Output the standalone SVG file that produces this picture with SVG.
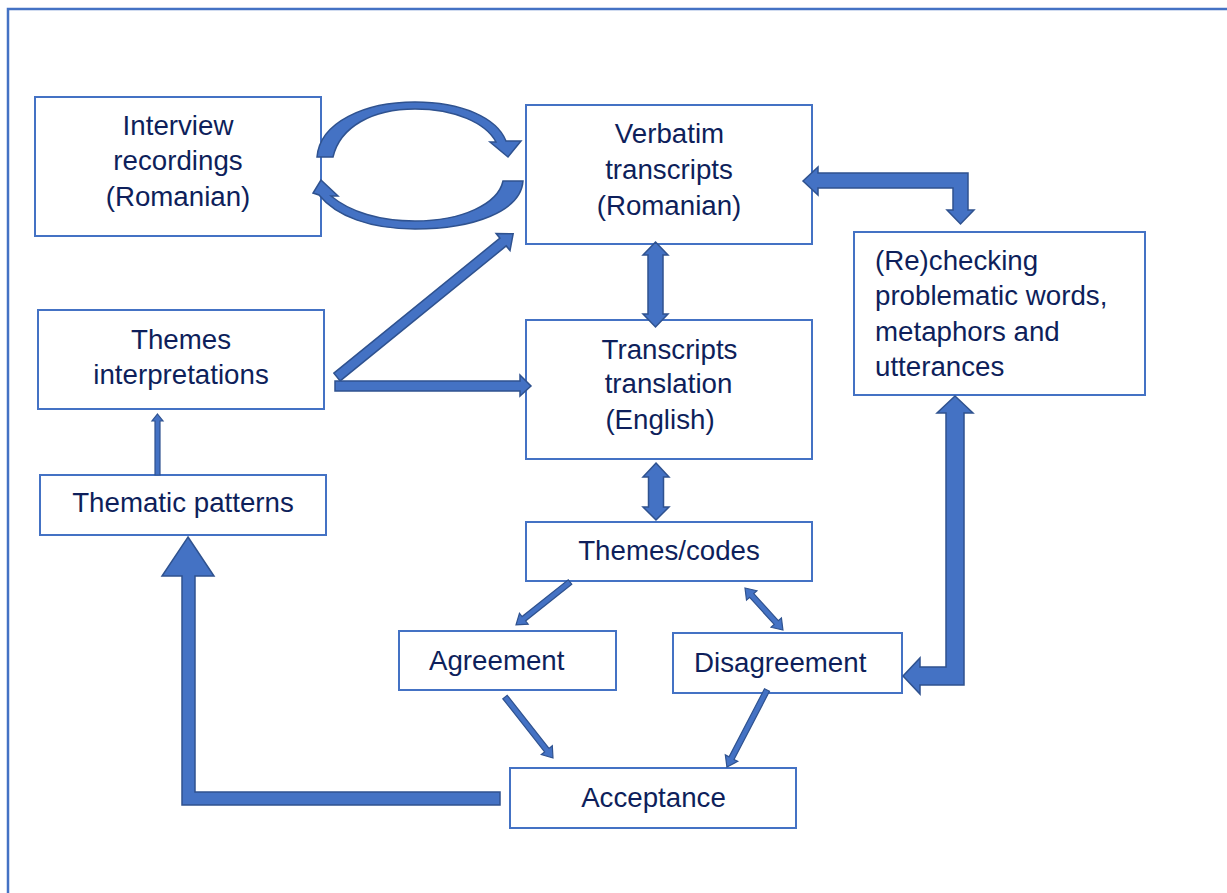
<svg xmlns="http://www.w3.org/2000/svg" width="1227" height="893" viewBox="0 0 1227 893">
  <style>
    .box { fill: #ffffff; stroke: #4472c4; stroke-width: 2; }
    .frame { fill: none; stroke: #4472c4; stroke-width: 2.5; }
    .lbl { font-family: "Liberation Sans", Arial, sans-serif; font-size: 27.7px; fill: #0e1f5b; }
    .mid { text-anchor: middle; }
    .arrow { fill: #4472c4; stroke: #2f528f; stroke-width: 1.5; stroke-linejoin: miter; }
    .thin { fill: #4472c4; stroke: #2f528f; stroke-width: 1.2; }
  </style>

  <rect width="1227" height="893" fill="#ffffff"/>
  <rect class="frame" x="8" y="9" width="1240" height="900"/>

  <g id="node-recordings">
    <rect class="box" x="35" y="97" width="286" height="139"/>
    <text class="lbl mid" x="178" y="135">Interview</text>
    <text class="lbl mid" x="178" y="170">recordings</text>
    <text class="lbl mid" x="178" y="206">(Romanian)</text>
  </g>

  <g id="node-verbatim">
    <rect class="box" x="526" y="105" width="286" height="139"/>
    <text class="lbl mid" x="669.5" y="143">Verbatim</text>
    <text class="lbl mid" x="669" y="179">transcripts</text>
    <text class="lbl mid" x="669" y="215">(Romanian)</text>
  </g>

  <g id="node-interpretations">
    <rect class="box" x="38" y="310" width="286" height="99"/>
    <text class="lbl mid" x="181" y="349">Themes</text>
    <text class="lbl mid" x="181" y="384">interpretations</text>
  </g>

  <g id="node-translation">
    <rect class="box" x="526" y="320" width="286" height="139"/>
    <text class="lbl mid" x="669.5" y="359">Transcripts</text>
    <text class="lbl mid" x="668.5" y="393">translation</text>
    <text class="lbl mid" x="660" y="429">(English)</text>
  </g>

  <g id="node-rechecking">
    <rect class="box" x="854" y="232" width="291" height="163"/>
    <text class="lbl" x="875" y="270">(Re)checking</text>
    <text class="lbl" x="875" y="305">problematic words,</text>
    <text class="lbl" x="875" y="341">metaphors and</text>
    <text class="lbl" x="875" y="376">utterances</text>
  </g>

  <g id="node-patterns">
    <rect class="box" x="40" y="475" width="286" height="60"/>
    <text class="lbl mid" x="183" y="512">Thematic patterns</text>
  </g>

  <g id="node-codes">
    <rect class="box" x="526" y="522" width="286" height="59"/>
    <text class="lbl mid" x="669" y="560">Themes/codes</text>
  </g>

  <g id="node-agreement">
    <rect class="box" x="399" y="631" width="217" height="59"/>
    <text class="lbl" x="429" y="670">Agreement</text>
  </g>

  <g id="node-disagreement">
    <rect class="box" x="673" y="633" width="229" height="60"/>
    <text class="lbl" x="694" y="672">Disagreement</text>
  </g>

  <g id="node-acceptance">
    <rect class="box" x="510" y="768" width="286" height="60"/>
    <text class="lbl mid" x="653.5" y="807">Acceptance</text>
  </g>

  <!-- connectors, drawn over the box borders -->
  <g id="connectors">
    <!-- curved arrows between recordings and transcripts -->
    <path class="arrow" d="M 317 157 C 320 122, 365 102, 415 102 C 462 102, 497 118, 506 141 L 521 141 L 508 157 L 490 142 L 496 142 C 486 123, 455 109, 415 109 C 372 109, 340 127, 333 157 Z"/>
    <path class="arrow" d="M 321 180 L 338 196 L 331 196 C 350 212, 380 221, 415 221 C 462 221, 498 204, 503 181 L 523 181 C 521 211, 474 229, 415 229 C 370 229, 336 216, 319 195 L 313 193 Z"/>

    <!-- interpretations to verbatim transcripts (diagonal) -->
    <polygon class="arrow" transform="translate(337,377) rotate(-39.1)" points="0,-5 214,-5 214,-11 227,0 214,11 214,5 0,5"/>
    <!-- interpretations to translation (horizontal) -->
    <polygon class="arrow" points="335,381 520,381 520,375 531,386 520,396 520,391 335,391"/>

    <!-- verbatim <-> translation -->
    <polygon class="arrow" points="655.5,242 668,255 663,255 663,314 668,314 655.5,327 643,314 648,314 648,255 643,255"/>
    <!-- translation <-> themes/codes -->
    <polygon class="arrow" points="656,463 669,477 663.5,477 663.5,507 669,507 656,520 643,507 648.5,507 648.5,477 643,477"/>

    <!-- verbatim <-> (re)checking elbow -->
    <polygon class="arrow" points="803,181 818,167 818,173 968,173 968,210 974,210 960.5,224 947,210 953,210 953,188 818,188 818,195"/>
    <!-- (re)checking <-> disagreement elbow -->
    <polygon class="arrow" points="955,396 973,413 964,413 964,685 920,685 920,694 903,676 920,658 920,667 946,667 946,413 937,413"/>

    <!-- themes/codes to agreement -->
    <polygon class="thin" transform="translate(570,582) rotate(141.5)" points="0,-2.8 59,-2.8 59,-7 69,0 59,7 59,2.8 0,2.8"/>
    <!-- themes/codes <-> disagreement -->
    <polygon class="thin" transform="translate(745,588) rotate(47.9)" points="0,0 10,-7 10,-2.8 46.6,-2.8 46.6,-7 56.6,0 46.6,7 46.6,2.8 10,2.8 10,7"/>
    <!-- agreement to acceptance -->
    <polygon class="thin" transform="translate(505,697) rotate(51.8)" points="0,-2.8 67.6,-2.8 67.6,-7 77.6,0 67.6,7 67.6,2.8 0,2.8"/>
    <!-- disagreement to acceptance -->
    <polygon class="thin" transform="translate(767,690) rotate(117.5)" points="0,-2.8 76.8,-2.8 76.8,-7 86.8,0 76.8,7 76.8,2.8 0,2.8"/>

    <!-- acceptance to thematic patterns elbow -->
    <polygon class="arrow" points="188,537 214,576 195,576 195,792 500,792 500,805 182,805 182,576 162,576"/>
    <!-- thematic patterns to interpretations -->
    <polygon class="thin" points="157.5,414 163,421 160,421 160,475 155,475 155,421 152,421"/>
  </g>
</svg>
